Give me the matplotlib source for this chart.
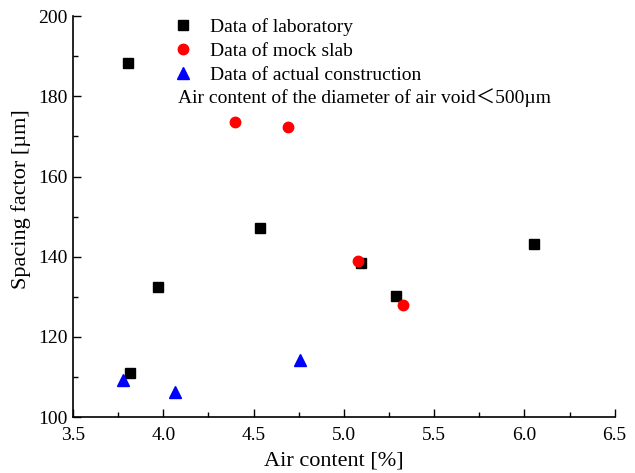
import matplotlib
matplotlib.use("Agg")
import matplotlib.pyplot as plt
from matplotlib.ticker import MultipleLocator

plt.rcParams['font.family'] = ['Liberation Serif', 'Noto Sans CJK JP']

# data
lab_x = [3.805, 3.816, 3.971, 4.535, 5.095, 5.288, 6.053]
lab_y = [188.2, 111.0, 132.4, 147.1, 138.4, 130.2, 143.2]
mock_x = [4.397, 4.690, 5.078, 5.327]
mock_y = [173.6, 172.3, 138.9, 127.9]
site_x = [3.777, 4.065, 4.757]
site_y = [109.2, 106.2, 114.3]

fig = plt.figure(figsize=(6.35, 4.73), dpi=100)
ax = fig.add_axes([0.115, 0.118, 0.853, 0.848])

ax.plot(lab_x, lab_y, 's', color='black', ms=7, ls='none', label='Data of laboratory')
ax.plot(mock_x, mock_y, 'o', color='red', ms=7.5, ls='none', label='Data of mock slab')
ax.plot(site_x, site_y, '^', color='blue', ms=8, ls='none', label='Data of actual construction')

ax.set_xlim(3.5, 6.5)
ax.set_ylim(100, 200)
ax.xaxis.set_major_locator(MultipleLocator(0.5))
ax.xaxis.set_minor_locator(MultipleLocator(0.25))
ax.yaxis.set_major_locator(MultipleLocator(20))
ax.yaxis.set_minor_locator(MultipleLocator(10))
ax.xaxis.set_major_formatter(matplotlib.ticker.FormatStrFormatter('%.1f'))
ax.tick_params(which='both', direction='in', labelsize=14, width=1)
ax.tick_params(which='major', length=6)
ax.tick_params(which='minor', length=3.5)
ax.tick_params(axis='x', pad=7)
ax.tick_params(axis='y', pad=4)
ax.spines['top'].set_visible(False)
ax.spines['right'].set_visible(False)
for s in ['left', 'bottom']:
    ax.spines[s].set_linewidth(1.2)

ax.set_xlabel('Air content [%]', fontsize=16)
ax.set_ylabel('Spacing factor [µm]', fontsize=16)
ax.xaxis.set_label_coords(0.482, -0.085)
ax.yaxis.set_label_coords(-0.078, 0.544)

leg = ax.legend(loc='upper left', bbox_to_anchor=(0.186, 0.995), frameon=False,
                fontsize=14, handlelength=1.0, handletextpad=0.84, labelspacing=0.32,
                borderaxespad=0, borderpad=0)
ax.text(0.193, 0.797, 'Air content of the diameter of air void＜500µm',
        transform=ax.transAxes, fontsize=14, va='center', ha='left')

fig.savefig('out.png', dpi=100)
